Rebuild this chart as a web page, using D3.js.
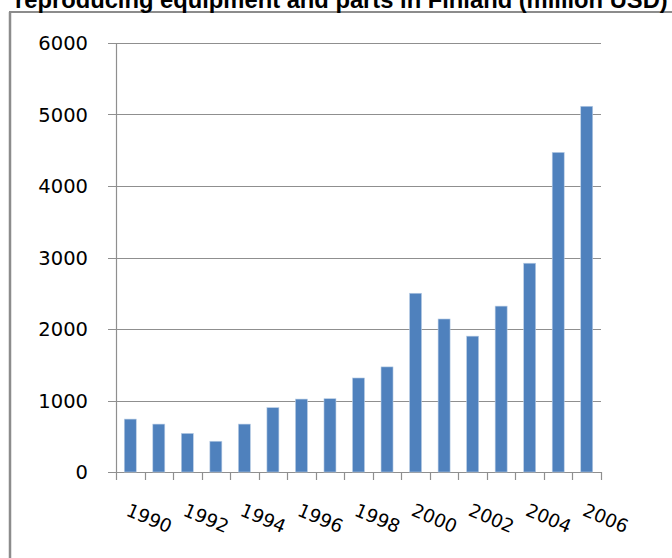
<!DOCTYPE html>
<html>
<head>
<meta charset="utf-8">
<script src="https://cdn.jsdelivr.net/npm/d3@7"></script>
<style>
  body { margin: 0; background: #fff; }
  svg { display: block; }
</style>
</head>
<body>
<script>
var years = [1990, 1991, 1992, 1993, 1994, 1995, 1996, 1997, 1998,
             1999, 2000, 2001, 2002, 2003, 2004, 2005, 2006];
var values = [740, 670, 540, 430, 670, 900, 1020, 1025, 1315,
              1470, 2500, 2140, 1900, 2320, 2920, 4470, 5115];
var yTicks = [0, 1000, 2000, 3000, 4000, 5000, 6000];
var titleText = "reproducing equipment and parts in Finland (million USD)";

var W = 672, H = 558;
var margin = {top: 43, left: 116, right: 71, bottom: 86};

var svg = d3.select("body")
            .append("svg")
            .attr("width", W)
            .attr("height", H);

// chart frame (only left and top edges show)
svg.append("line")
   .attr("x1", 10).attr("x2", 10).attr("y1", 12).attr("y2", H)
   .attr("stroke", "#8c8c8c").attr("stroke-width", 2.5);
svg.append("line")
   .attr("x1", 9).attr("x2", W).attr("y1", 12).attr("y2", 12)
   .attr("stroke", "#8c8c8c").attr("stroke-width", 2);

// title, cropped at top
var title = svg.append("text")
   .attr("x", 15)
   .attr("y", 8)
   .style("font-family", "'Liberation Sans', Arial, sans-serif")
   .style("font-weight", "bold")
   .style("font-size", "18px")
   .text(titleText);
var tw = title.node().getComputedTextLength();
title.style("font-size", (18 * 653 / tw) + "px");

var x = d3.scaleBand()
          .domain(years)
          .range([margin.left, W - margin.right])
          .paddingInner(0.58)
          .paddingOuter(0.29);

var y = d3.scaleLinear()
          .domain([0, 6000])
          .range([H - margin.bottom, margin.top]);

// gridlines
svg.append("g")
   .selectAll("line")
   .data(yTicks)
   .enter()
   .append("line")
   .attr("x1", margin.left - 8)
   .attr("x2", W - margin.right)
   .attr("y1", function(d){ return Math.round(y(d)) + 0.5; })
   .attr("y2", function(d){ return Math.round(y(d)) + 0.5; })
   .attr("stroke", "#8f8f8f")
   .attr("stroke-width", 1.2);

// y labels
svg.append("g")
   .selectAll("text")
   .data(yTicks)
   .enter()
   .append("text")
   .attr("x", 88)
   .attr("y", function(d){ return y(d); })
   .attr("dy", "0.36em")
   .attr("text-anchor", "end")
   .style("font-family", "'DejaVu Sans', sans-serif")
   .style("font-size", "19.5px")
   .attr("fill", "#000")
   .text(function(d){ return d; });

// bars
svg.append("g")
   .selectAll("rect")
   .data(values)
   .enter()
   .append("rect")
   .attr("x", function(d, i){ return x(years[i]); })
   .attr("width", x.bandwidth())
   .attr("y", function(d){ return y(d); })
   .attr("height", function(d){ return y(0) - y(d); })
   .attr("fill", "#4f81bd")
   .attr("stroke", "#b9cde5")
   .attr("stroke-width", 0.6);

// y axis line
svg.append("line")
   .attr("x1", margin.left + 0.5).attr("x2", margin.left + 0.5)
   .attr("y1", y(6000)).attr("y2", y(0))
   .attr("stroke", "#8f8f8f").attr("stroke-width", 1.2);

// x axis line and ticks
var step = x.step();
var xTickPos = d3.range(years.length + 1).map(function(i){
  return margin.left + i * (W - margin.right - margin.left) / years.length;
});
svg.append("g")
   .selectAll("line")
   .data(xTickPos)
   .enter()
   .append("line")
   .attr("x1", function(d){ return Math.round(d) + 0.5; })
   .attr("x2", function(d){ return Math.round(d) + 0.5; })
   .attr("y1", y(0))
   .attr("y2", y(0) + 8)
   .attr("stroke", "#8f8f8f")
   .attr("stroke-width", 1.2);

// x labels, every other year, rotated
svg.append("g")
   .selectAll("text")
   .data(years.filter(function(d, i){ return i % 2 === 0; }))
   .enter()
   .append("text")
   .attr("transform", function(d){
     return "translate(" + (x(d) + x.bandwidth() / 2 + 19) + "," + 518 + ") rotate(23)";
   })
   .attr("text-anchor", "middle")
   .attr("dy", "0.36em")
   .style("font-family", "'DejaVu Sans', sans-serif")
   .style("font-size", "18.5px")
   .attr("fill", "#000")
   .text(function(d){ return d; });
</script>
</body>
</html>
